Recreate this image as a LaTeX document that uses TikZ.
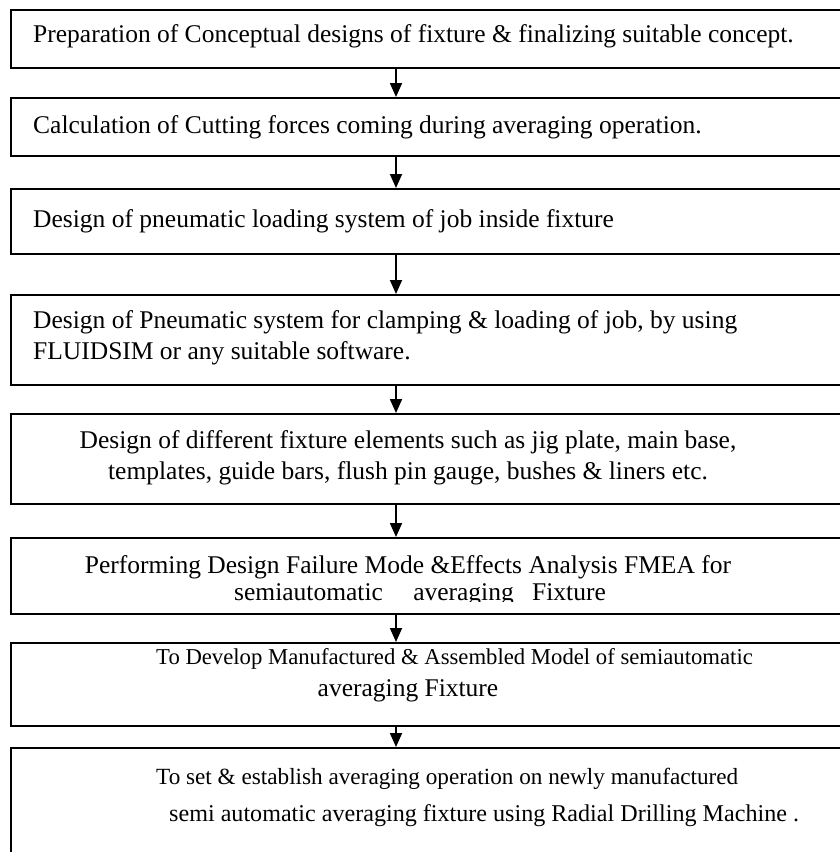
\documentclass[tikz,border=0pt]{standalone}
\usepackage{fontspec}
\setmainfont{Liberation Serif}
\usetikzlibrary{arrows.meta}
\begin{document}
\begin{tikzpicture}[x=1pt,y=-1pt,
  stage/.style={draw=black, line width=1.8pt, rectangle, inner sep=0pt,
    anchor=north west, minimum width=850pt},
  txt/.style={anchor=base west, inner sep=0pt, font=\fontsize{25.5}{31}\selectfont},
  ctxt/.style={anchor=base, inner sep=0pt, font=\fontsize{25.5}{31}\selectfont},
  sized/.style={font=\fontsize{#1}{31}\selectfont},
  flow/.style={line width=1.8pt, -{Triangle[length=14pt,width=12pt]}}]
\useasboundingbox (0,0) rectangle (840,852);
\clip (0,0) rectangle (840,852);
\fill[white] (0,0) rectangle (840,852);

% process boxes (they run past the right and bottom edges)
\node[stage, minimum height=58pt]  (b1) at (10,9)   {};
\node[stage, minimum height=58pt]  (b2) at (10,97)  {};
\node[stage, minimum height=65pt]  (b3) at (10,188) {};
\node[stage, minimum height=90pt]  (b4) at (10,294) {};
\node[stage, minimum height=90pt]  (b5) at (10,413) {};
\node[stage, minimum height=76pt]  (b6) at (10,537) {};
\node[stage, minimum height=83pt]  (b7) at (10,642) {};
\node[stage, minimum height=130pt] (b8) at (10,747) {};

% connectors
\coordinate (ax) at (396,0);
\foreach \a/\b in {b1/b2,b2/b3,b3/b4,b4/b5,b5/b6,b6/b7,b7/b8}
  \draw[flow] (\a.south -| ax) -- (\b.north -| ax);

% box texts
\node[txt] (t1) at (33,42) {Preparation of Conceptual designs of fixture \& finalizing suitable concept.};
\node[txt] (t2) at (33,133) {Calculation of Cutting forces coming during averaging operation.};
\node[txt] (t3) at (33,227) {Design of pneumatic loading system of job inside fixture};
\node[txt] (t4a) at (33,328) {Design of Pneumatic system for clamping \& loading of job, by using};
\node[txt] (t4b) at (33,359) {FLUIDSIM or any suitable software.};
\node[ctxt] (t5a) at (408,448) {Design of different fixture elements such as jig plate, main base,};
\node[ctxt] (t5b) at (408,479) {templates, guide bars, flush pin gauge, bushes \& liners etc.};
\node[ctxt] (t6a) at (408,573) {Performing Design Failure Mode \&Effects Analysis FMEA for};
\begin{scope}
  \clip (0,0) rectangle (840,601);
  \node[ctxt] (t6b) at (420,600) {semiautomatic\hspace{24pt} averaging\hspace{12pt} Fixture};
\end{scope}
\node[txt, sized=22.7] (t7a) at (156,664) {To Develop Manufactured \& Assembled Model of semiautomatic};
\node[ctxt] (t7b) at (408,696) {averaging Fixture};
\node[txt, sized=23.2] (t8a) at (156,784) {To set \& establish averaging operation on newly manufactured};
\node[txt, sized=24.1] (t8b) at (169,821) {semi automatic averaging fixture using Radial Drilling Machine .};
\end{tikzpicture}
\end{document}
